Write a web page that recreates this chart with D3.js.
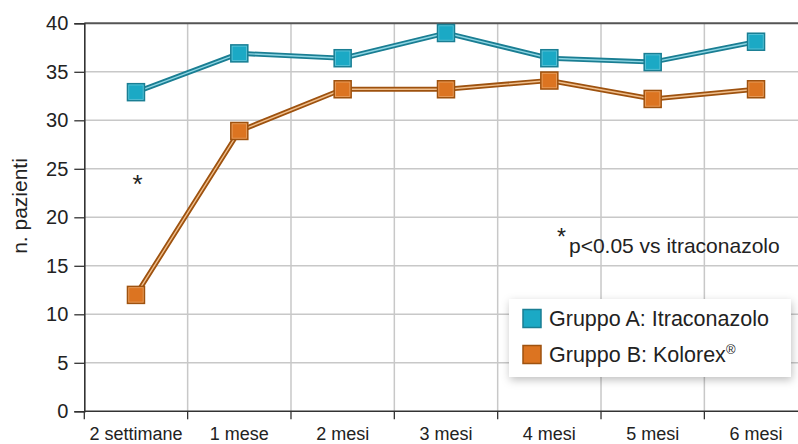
<!DOCTYPE html>
<html lang="it">
<head>
    <meta charset="UTF-8">
    <title>Pazienti per gruppo</title>
    <script src="https://d3js.org/d3.v7.min.js"></script>
    <style>
        body { margin: 0; background: #fff; }
        svg { display: block; font-family: 'Liberation Sans', Arial, sans-serif; }
    </style>
</head>
<body>
<div id="chart"></div>
<script>
    // data
    var categories = ['2 settimane', '1 mese', '2 mesi', '3 mesi', '4 mesi', '5 mesi', '6 mesi'];
    var gruppoA = [32.9, 36.9, 36.4, 39.0, 36.4, 36.0, 38.1];
    var gruppoB = [12.0, 28.9, 33.2, 33.2, 34.1, 32.2, 33.2];
    var yTicks = [0, 5, 10, 15, 20, 25, 30, 35, 40];

    var width = 798, height = 444;
    var plotLeft = 84.3, plotRight = 807.7, plotTop = 23.3, plotBottom = 411.3;

    var svg = d3.select('#chart').append('svg')
        .attr('width', width)
        .attr('height', height);

    var defs = svg.append('defs');
    var f = defs.append('filter').attr('id', 'shadow')
        .attr('x', '-10%').attr('y', '-20%').attr('width', '120%').attr('height', '150%');
    f.append('feDropShadow').attr('dx', 1).attr('dy', 3).attr('stdDeviation', 4)
        .attr('flood-color', '#000').attr('flood-opacity', 0.25);

    var x = d3.scaleBand().domain(categories).range([plotLeft, plotRight]);
    var y = d3.scaleLinear().domain([0, 40]).range([plotBottom, plotTop]);

    // horizontal grid
    svg.append('g').selectAll('line')
        .data(yTicks.filter(d => d > 0 && d < 40))
        .enter().append('line')
        .attr('x1', plotLeft).attr('x2', width)
        .attr('y1', d => y(d)).attr('y2', d => y(d))
        .attr('stroke', '#c8c8c8').attr('stroke-width', 1.5);

    // vertical grid on band boundaries
    svg.append('g').selectAll('line')
        .data(categories.slice(1))
        .enter().append('line')
        .attr('x1', d => x(d)).attr('x2', d => x(d))
        .attr('y1', plotTop).attr('y2', plotBottom)
        .attr('stroke', '#c8c8c8').attr('stroke-width', 1.5);

    // top border
    svg.append('line')
        .attr('x1', plotLeft).attr('x2', width)
        .attr('y1', plotTop).attr('y2', plotTop)
        .attr('stroke', '#555').attr('stroke-width', 2);

    // y axis
    var yAxis = svg.append('g')
        .attr('transform', `translate(${plotLeft},0)`)
        .call(d3.axisLeft(y).tickValues(yTicks).tickSize(10).tickPadding(6));
    yAxis.select('.domain').attr('stroke', '#333').attr('stroke-width', 1.6);
    yAxis.selectAll('.tick line').attr('stroke', '#333').attr('stroke-width', 1.3);
    yAxis.selectAll('.tick text')
        .style('font-size', '20px')
        .attr('fill', '#222');

    // x axis: ticks on band edges, labels at centres
    var xAxis = svg.append('g')
        .attr('transform', `translate(0,${plotBottom})`);
    xAxis.append('line')
        .attr('x1', plotLeft).attr('x2', width)
        .attr('stroke', '#333').attr('stroke-width', 1.6);
    xAxis.selectAll('.tk')
        .data(categories)
        .enter().append('line')
        .attr('class', 'tk')
        .attr('x1', d => x(d)).attr('x2', d => x(d))
        .attr('y1', 0).attr('y2', 8)
        .attr('stroke', '#333').attr('stroke-width', 1.3);
    xAxis.selectAll('text')
        .data(categories)
        .enter().append('text')
        .attr('x', d => x(d) + x.bandwidth() / 2)
        .attr('y', 29)
        .attr('text-anchor', 'middle')
        .style('font-size', '18px')
        .attr('fill', '#222')
        .text(d => d);

    // y label
    svg.append('text')
        .attr('transform', `translate(27,206) rotate(-90)`)
        .attr('text-anchor', 'middle')
        .style('font-size', '21px')
        .attr('fill', '#222')
        .text('n. pazienti');

    var series = [
        { name: 'Gruppo A: Itraconazolo', values: gruppoA, fill: '#1ba9c5', dark: '#1a7e93', light: '#8fd6e4' },
        { name: 'Gruppo B: Kolorex', values: gruppoB, fill: '#dc7421', dark: '#9e520f', light: '#f0c08f' }
    ];

    var line = d3.line()
        .x((d, i) => x(categories[i]) + x.bandwidth() / 2)
        .y(d => y(d));

    series.forEach(function(s) {
        var g = svg.append('g');
        g.append('path')
            .attr('d', line(s.values))
            .attr('fill', 'none')
            .attr('stroke', s.dark)
            .attr('stroke-width', 5);
        g.append('path')
            .attr('d', line(s.values))
            .attr('fill', 'none')
            .attr('stroke', s.light)
            .attr('stroke-width', 1.4);
        g.selectAll('rect')
            .data(s.values)
            .enter().append('rect')
            .attr('x', (d, i) => x(categories[i]) + x.bandwidth() / 2 - 8.5)
            .attr('y', d => y(d) - 8.5)
            .attr('width', 17).attr('height', 17)
            .attr('fill', s.fill)
            .attr('stroke', s.dark)
            .attr('stroke-width', 1.5);
        g.selectAll('.hl')
            .data(s.values)
            .enter().append('rect')
            .attr('class', 'hl')
            .attr('x', (d, i) => x(categories[i]) + x.bandwidth() / 2 - 7.2)
            .attr('y', d => y(d) - 7.2)
            .attr('width', 14.4).attr('height', 14.4)
            .attr('fill', 'none')
            .attr('stroke', s.light)
            .attr('stroke-opacity', 0.6)
            .attr('stroke-width', 0.8);
    });

    // significance asterisk
    svg.append('text')
        .attr('x', x(categories[0]) + x.bandwidth() / 2 + 1.5)
        .attr('y', 193)
        .attr('text-anchor', 'middle')
        .style('font-size', '26px')
        .attr('fill', '#222')
        .text('*');

    var note = svg.append('text')
        .attr('x', 557)
        .attr('y', 253)
        .style('font-size', '21px')
        .attr('fill', '#222');
    note.append('tspan').attr('dy', -8).style('font-size', '23px').text('*');
    note.append('tspan').attr('dy', 8).attr('dx', 3).text('p<0.05 vs itraconazolo');

    // legend
    var lg = svg.append('g').attr('transform', 'translate(509,299)');
    lg.append('rect')
        .attr('width', 282).attr('height', 78)
        .attr('fill', '#fff')
        .attr('filter', 'url(#shadow)');
    series.forEach(function(s, i) {
        var row = lg.append('g').attr('transform', `translate(14,${19.5 + i * 36})`);
        row.append('rect')
            .attr('x', 0).attr('y', -9)
            .attr('width', 18).attr('height', 18)
            .attr('fill', s.fill)
            .attr('stroke', s.dark)
            .attr('stroke-width', 1.5);
        var t = row.append('text')
            .attr('x', 26).attr('y', 7.5)
            .style('font-size', '21.5px')
            .attr('fill', '#222')
            .text(s.name);
        if (i === 1) {
            t.append('tspan').attr('dy', -8).style('font-size', '13px').text('®');
        }
    });
</script>
</body>
</html>
